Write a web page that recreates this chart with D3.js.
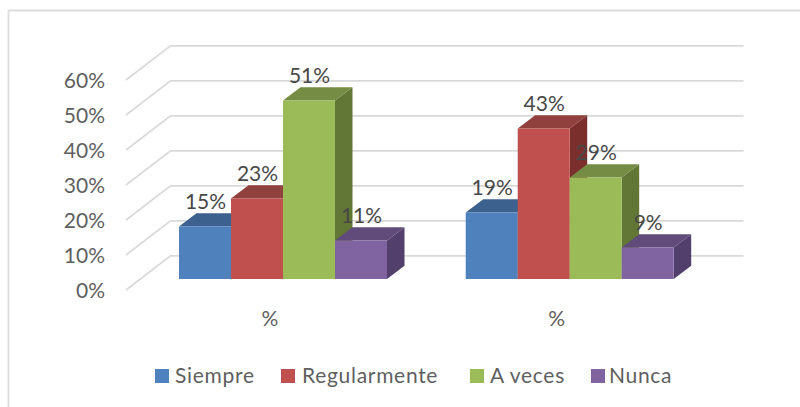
<!DOCTYPE html>
<html><head><meta charset="utf-8">
<script src="https://cdn.jsdelivr.net/npm/d3@7"></script>
<style>html,body{margin:0;background:#fff}svg{display:block}text{font-family:Lato,"Open Sans",sans-serif}</style>
</head><body><svg id="c" width="800" height="407"></svg>
<script>
const groups = ["%a","%b"];
const groupLabels = ["%","%"];
const seriesNames = ["Siempre","Regularmente","A veces","Nunca"];
const siempre = [15,19];
const regularmente = [23,43];
const aVeces = [51,29];
const nunca = [11,9];
const yTicks = [0,10,20,30,40,50,60];
const colors = ["#4f81bd","#c0504d","#9bbb59","#8064a2"];
const topColors = ["#3c618e","#90403d","#748c43","#604b7a"];
const sideColors = ["#2f4d72","#7a2f2d","#627736","#533f6c"];
const seriesValues = [siempre,regularmente,aVeces,nunca];

const svg = d3.select("#c");
svg.append("path").attr("fill","none").attr("stroke","#dcdcdc").attr("stroke-width",1.8)
  .attr("d","M8.5,407L8.5,10.5L800,10.5");

const y = d3.scaleLinear().domain([0,60]).range([279,69]);
const barW = 52;
const dx = 17.5, dy = 13.3;
const wallDx = 44.5, wallDy = 34.2;
const frontY = v => y(v)+11;
const wallX = 126;

yTicks.forEach(t=>{
  const fy = frontY(t);
  svg.append("path").attr("fill","none").attr("stroke","#d9d9d9").attr("stroke-width",1.7)
    .attr("d",`M${wallX},${fy}L${wallX+wallDx},${fy-wallDy}L743.5,${fy-wallDy}`);
  svg.append("text").attr("x",105).attr("y",fy+7.5).attr("text-anchor","end")
    .attr("font-size",21).attr("fill","#5f5f5f").text(t+"%");
});

const groupStart = [179,465.7];
const labels = [];
groups.forEach((g,gi)=>{
  seriesValues.forEach((vals,si)=>{
    const v = vals[gi];
    const bx = groupStart[gi]+si*barW, top=y(v), base=y(0);
    svg.append("path").attr("fill",sideColors[si])
      .attr("d",`M${bx+barW},${top}L${bx+barW+dx},${top-dy}L${bx+barW+dx},${base-dy}L${bx+barW},${base}Z`);
    svg.append("path").attr("fill",topColors[si])
      .attr("d",`M${bx},${top}L${bx+dx},${top-dy}L${bx+barW+dx},${top-dy}L${bx+barW},${top}Z`);
    svg.append("rect").attr("x",bx).attr("y",top).attr("width",barW).attr("height",base-top).attr("fill",colors[si]);
    labels.push({x:bx+barW/2+0.5,y:top-17.5,t:v+"%"});
  });
  svg.append("text").attr("x",groupStart[gi]+91).attr("y",326).attr("text-anchor","middle")
    .attr("font-size",21).attr("fill","#5f5f5f").text(groupLabels[gi]);
});
labels.forEach(l=>svg.append("text").attr("x",l.x).attr("y",l.y).attr("text-anchor","middle")
  .attr("font-size",21).attr("fill","#484848").text(l.t));

const swatchX = [155,281,470,591];
const textX = [175,302,490,609];
seriesNames.forEach((n,i)=>{
  svg.append("rect").attr("x",swatchX[i]).attr("y",369).attr("width",14).attr("height",14).attr("fill",colors[i]);
  svg.append("text").attr("x",textX[i]).attr("y",383).attr("font-size",21).attr("fill","#5f5f5f")
    .attr("letter-spacing",0.7).text(n);
});
</script></body></html>
